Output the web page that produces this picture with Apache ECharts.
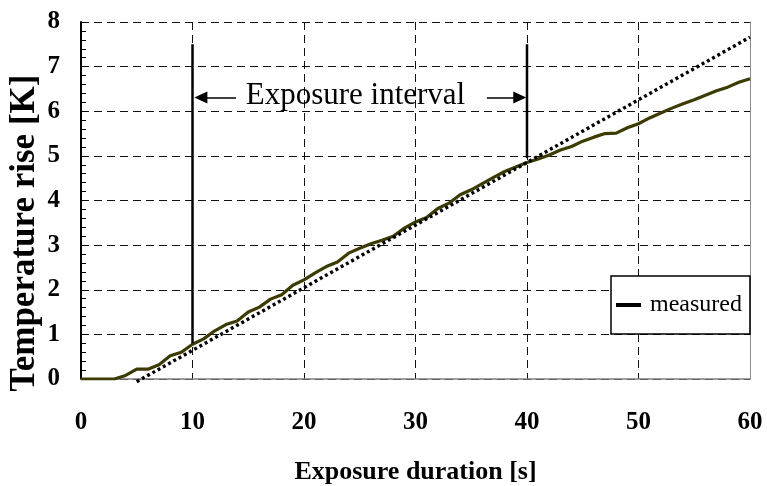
<!DOCTYPE html>
<html>
<head>
<meta charset="utf-8">
<script src="https://cdn.jsdelivr.net/npm/echarts@6/dist/echarts.min.js"></script>
<style>
html,body{margin:0;padding:0;background:#fff;}
#chart{width:767px;height:486px;}
</style>
</head>
<body>
<div id="chart"></div>
<script>
// ---- data ----
var timeS = [0,1,2,3,4,5,6,7,8,9,10,11,12,13,14,15,16,17,18,19,20,21,22,23,24,25,26,27,28,29,30,
             31,32,33,34,35,36,37,38,39,40,41,42,43,44,45,46,47,48,49,50,51,52,53,54,55,56,57,58,59,60];
var measured = [0,0,0,0,0.08,0.22,0.22,0.32,0.52,0.60,0.78,0.90,1.08,1.22,1.30,1.50,1.61,1.79,1.89,2.10,2.22,
                2.38,2.52,2.62,2.82,2.93,3.03,3.11,3.20,3.38,3.52,3.62,3.82,3.94,4.13,4.24,4.38,4.52,4.65,4.75,4.85,
                4.93,5.02,5.13,5.21,5.33,5.42,5.50,5.51,5.63,5.72,5.85,5.96,6.07,6.17,6.26,6.36,6.46,6.54,6.65,6.73];
var fitLine = [[5,-0.06],[60,7.66]];
var intervalStartLine = [[10,7.5],[10,0.8]];
var intervalEndLine = [[40,7.5],[40,4.95]];
var arrowLeft = [[13.9,6.31],[10.75,6.31]];
var arrowRight = [[36.4,6.31],[39.35,6.31]];
var annotationPos = [[24.66,6.33]];
var annotationText = 'Exposure interval';
var xTitle = 'Exposure duration [s]';
var yTitle = 'Temperature rise [K]';
var legendName = 'measured';

var serif = '"Liberation Serif","Times New Roman",serif';
var chart = echarts.init(document.getElementById('chart'), null, {renderer:'canvas'});

var measuredData = timeS.map(function(t,i){return [t, measured[i]];});

chart.setOption({
  animation:false,
  backgroundColor:'#fff',
  grid:{left:81,right:17,top:22,bottom:107,containLabel:false,outerBoundsMode:'none'},
  legend:{
    data:[{name:legendName, icon:'rect', itemStyle:{color:'#000'}}],
    left:611, top:276,
    itemWidth:25, itemHeight:4,
    padding:[17,8,17,5],
    borderColor:'#000', borderWidth:1.5, borderRadius:0,
    backgroundColor:'#fff',
    textStyle:{fontFamily:serif, fontSize:24, color:'#000', padding:[0,0,0,4]},
    selectedMode:false
  },
  xAxis:{
    type:'value', min:0, max:60, interval:10,
    name:xTitle, nameLocation:'middle', nameGap:80,
    nameTextStyle:{fontFamily:serif, fontWeight:'bold', fontSize:26, color:'#000'},
    axisLine:{show:true, lineStyle:{color:'#7f7f7f', width:1.5}},
    axisTick:{show:false},
    axisLabel:{fontFamily:serif, fontWeight:'bold', fontSize:25, color:'#000', margin:31},
    splitLine:{show:true, lineStyle:{color:'#111', width:1, type:[8,5]}}
  },
  yAxis:[{
    type:'value', min:0, max:8, interval:1, position:'left',
    axisLine:{show:true, lineStyle:{color:'#000', width:2}},
    axisTick:{show:true, inside:true, length:6, lineStyle:{color:'#000', width:1}},
    minorTick:{show:true, splitNumber:5, length:5, lineStyle:{color:'#000', width:1}},
    axisLabel:{fontFamily:serif, fontWeight:'bold', fontSize:25, color:'#000', margin:21},
    splitLine:{show:true, lineStyle:{color:'#111', width:1, type:[8,5]}}
  },{
    type:'value', min:0, max:8, interval:1, position:'right',
    axisLine:{show:true, lineStyle:{color:'#8c8c8c', width:1}},
    axisTick:{show:false}, axisLabel:{show:false}, splitLine:{show:false}
  }],
  graphic:[{
    type:'text', x:25, y:233, rotation:Math.PI/2,
    style:{text:yTitle, font:'bold 35px '+serif, fill:'#000', textAlign:'center', textVerticalAlign:'middle'}
  }],
  series:[
    {
      name:legendName, type:'line', data:measuredData, showSymbol:false, symbol:'none',
      lineStyle:{color:'#3b3b03', width:3.2}, itemStyle:{color:'#3b3b03'}, z:3
    },
    {
      name:'fit', type:'line', data:fitLine, showSymbol:false, symbol:'none', clip:false,
      lineStyle:{color:'#000', width:3.4, type:[3,3]}, z:4
    },
    {
      name:'start', type:'line', data:intervalStartLine, showSymbol:false, symbol:'none',
      lineStyle:{color:'#000', width:2.5}, z:5,
      markLine:{
        silent:true, symbol:['none','triangle'], symbolSize:[12,13],
        label:{show:false},
        lineStyle:{color:'#000', width:1.5, type:'solid'},
        itemStyle:{color:'#000'},
        data:[
          [{coord:arrowLeft[0]},{coord:arrowLeft[1]}],
          [{coord:arrowRight[0]},{coord:arrowRight[1]}]
        ]
      }
    },
    {
      name:'end', type:'line', data:intervalEndLine, showSymbol:false, symbol:'none',
      lineStyle:{color:'#000', width:2.5}, z:5
    },
    {
      name:'annotation', type:'scatter', data:annotationPos, symbolSize:1, silent:true,
      itemStyle:{color:'rgba(255,255,255,0)'}, z:6,
      label:{show:true, position:[0,0], align:'center', verticalAlign:'middle', formatter:annotationText,
        fontFamily:serif, fontSize:31, color:'#000', opacity:1, textBorderWidth:0}
    }
  ]
});
</script>
</body>
</html>
